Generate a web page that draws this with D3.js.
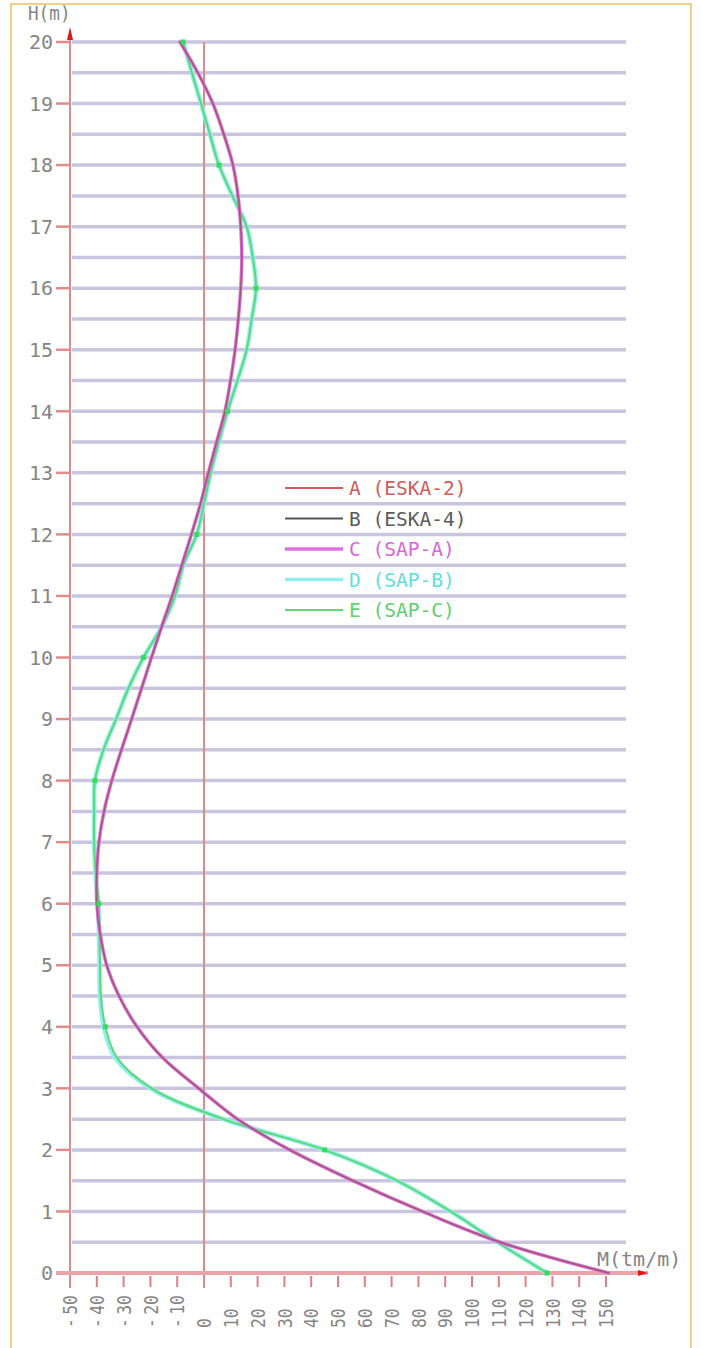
<!DOCTYPE html>
<html>
<head>
<meta charset="utf-8">
<script src="https://cdn.jsdelivr.net/npm/d3@7/dist/d3.min.js"></script>
<style>
  html, body { margin: 0; padding: 0; background: #ffffff; }
  svg { display: block; }
  text { font-family: "DejaVu Sans Mono", "Liberation Mono", monospace; }
</style>
</head>
<body>
<svg id="chart" width="702" height="1348"></svg>
<script>
// ---------------- DATA ----------------
const heights = [0,0.5,1,1.5,2,2.5,3,3.5,4,4.5,5,5.5,6,6.5,7,7.5,8,8.5,9,9.5,10,
                 10.5,11,11.5,12,12.5,13,13.5,14,14.5,15,15.5,16,16.5,17,17.5,18,18.5,19,19.5,20];
// ESKA results (A, B) and SAP-A (C): nearly identical
const seriesA = [151,110.5,81.5,55.5,32,12.5,-2,-15.5,-25,-31.7,-36.3,-38.7,-40,-40,-39.2,-37.3,-34.4,-30.8,-27,-23.3,-19.6,
                 -15.8,-11.9,-8.3,-4.7,-1.3,1.6,4.7,7.8,9.9,11.6,12.8,13.7,14.1,13.7,12.7,10.8,7.4,3.3,-2.3,-9];
const seriesB = [151,110.5,81.5,55.5,32,12.5,-2,-15.5,-25,-31.7,-36.3,-38.7,-40,-40,-39.2,-37.3,-34.4,-30.8,-27,-23.3,-19.6,
                 -15.8,-11.9,-8.3,-4.7,-1.3,1.6,4.7,7.8,9.9,11.6,12.8,13.7,14.1,13.7,12.7,10.8,7.4,3.3,-2.3,-9];
const seriesC = [151,110.5,81.5,55.5,32,12.5,-2,-15.5,-25,-31.7,-36.3,-38.7,-40,-40,-39.2,-37.3,-34.4,-30.8,-27,-23.3,-19.6,
                 -15.8,-11.9,-8.3,-4.7,-1.3,1.6,4.7,7.8,9.9,11.6,12.8,13.7,14.1,13.7,12.7,10.8,7.4,3.3,-2.3,-9];
// SAP-B (D) and SAP-C (E)
const seriesD = [128,109.5,92,72,45,7.2,-20,-33.2,-37.4,-38.8,-39,-39.2,-39.5,-40.5,-41,-41,-40.7,-37.5,-32.8,-28.2,-22.6,
                 -15.8,-10.8,-7.7,-2.7,0,2.5,5.5,8.8,12.5,15.9,17.8,19.4,18.2,15.9,10.6,5.6,2.2,-1.1,-4.5,-7.8];
const seriesE = [128,109.5,92,72,45,7.2,-19.5,-32.5,-36.8,-38.5,-38.8,-39,-39.2,-40.4,-41,-41,-40.7,-37.5,-32.8,-28.2,-22.6,
                 -15.8,-10.8,-7.7,-2.7,0,2.5,5.5,8.8,12.5,15.9,17.8,19.4,18.2,15.9,10.6,5.6,2.2,-1.1,-4.5,-7.8];
const markerHeights = [0,2,4,6,8,10,12,14,16,18,20];

const legendNames = ["A (ESKA-2)", "B (ESKA-4)", "C (SAP-A)", "D (SAP-B)", "E (SAP-C)"];
const xTicks = [-50,-40,-30,-20,-10,0,10,20,30,40,50,60,70,80,90,100,110,120,130,140,150];
const yTicks = [0,1,2,3,4,5,6,7,8,9,10,11,12,13,14,15,16,17,18,19,20];
const gridLevels = d3.range(0.5, 20.01, 0.5);
const yTitle = "H(m)";
const xTitle = "M(tm/m)";

// ---------------- STYLES ----------------
const colA = "#d45a5a", colB = "#555555", colC = "#e070e0", colD = "#8ff0ee", colE = "#5fd87a";
const textGray = "#858585";

// ---------------- SCALES ----------------
const x = d3.scaleLinear().domain([-50, 150]).range([70, 606]);
const y = d3.scaleLinear().domain([0, 20]).range([1273, 42]);

const svg = d3.select("#chart");

// frame
svg.append("rect").attr("x", 11).attr("y", 4).attr("width", 680).attr("height", 1380)
  .attr("fill", "none").attr("stroke", "#e7c25c").attr("stroke-width", 1.5);

// grid lines
svg.append("g").selectAll("line").data(gridLevels).join("line")
  .attr("x1", x.range()[0] + 2).attr("x2", x.range()[1] + 20)
  .attr("y1", d => y(d)).attr("y2", d => y(d))
  .attr("stroke", "#c9c5de").attr("stroke-width", 3.5);

// y axis line + arrow
svg.append("line").attr("x1", x(-50)).attr("x2", x(-50)).attr("y1", 30).attr("y2", 1288)
  .attr("stroke", "#d98c8c").attr("stroke-width", 2);
svg.append("path").attr("d", `M${x(-50)-3},40 L${x(-50)},27 L${x(-50)+3},40 Z`).attr("fill", "#e01818");

// zero line
svg.append("line").attr("x1", x(0)).attr("x2", x(0)).attr("y1", y(20)).attr("y2", 1288)
  .attr("stroke", "#d98c8c").attr("stroke-width", 2);

// x axis line + arrow
svg.append("line").attr("x1", 56).attr("x2", 648).attr("y1", y(0)).attr("y2", y(0))
  .attr("stroke", "#e9a4aa").attr("stroke-width", 4);
svg.append("path").attr("d", `M638,${y(0)-3} L648,${y(0)} L638,${y(0)+3} Z`).attr("fill", "#e01818");

// y ticks
svg.append("g").selectAll("line").data(yTicks.filter(d => d > 0)).join("line")
  .attr("x1", 56).attr("x2", x(-50)).attr("y1", d => y(d)).attr("y2", d => y(d))
  .attr("stroke", "#e08a8a").attr("stroke-width", 2.5);

// y tick labels
svg.append("g").selectAll("text").data(yTicks).join("text")
  .attr("x", 53).attr("y", d => y(d)).attr("dy", "0.36em")
  .attr("text-anchor", "end").attr("font-size", 20).attr("fill", textGray)
  .text(d => d);

// x ticks
svg.append("g").selectAll("line").data(xTicks.filter(d => d !== -50 && d !== 0)).join("line")
  .attr("x1", d => x(d)).attr("x2", d => x(d)).attr("y1", y(0) + 3).attr("y2", 1287)
  .attr("stroke", "#de7f88").attr("stroke-width", 2);

// x tick labels (rotated)
const xl = svg.append("g").selectAll("text").data(xTicks).join("text")
  .attr("transform", d => `translate(${x(d)},1328) rotate(-90) scale(0.82,1)`)
  .attr("dy", "0.36em").attr("text-anchor", "start")
  .attr("font-size", 20).attr("fill", textGray);
xl.each(function(d) {
  const t = d3.select(this);
  if (d < 0) {
    t.append("tspan").text("-");
    t.append("tspan").attr("dx", 4).text(String(Math.abs(d)));
  } else {
    t.text(String(d));
  }
});

// axis titles
svg.append("text").attr("x", 28).attr("y", 20).attr("font-size", 19).attr("fill", textGray)
  .attr("transform", "translate(28,0) scale(0.93,1) translate(-28,0)").text(yTitle);
svg.append("text").attr("x", 597).attr("y", 1266).attr("font-size", 20).attr("fill", textGray).text(xTitle);

// ---------------- CURVES ----------------
const mk = arr => heights.map((h, i) => ({h: h, v: arr[i]}));
const line = d3.line().x(d => x(d.v)).y(d => y(d.h)).curve(d3.curveCatmullRom.alpha(0.5));

const g = svg.append("g").attr("fill", "none").attr("stroke-linejoin", "round").attr("stroke-linecap", "round");
g.append("path").attr("d", line(mk(seriesD))).attr("stroke", colD).attr("stroke-width", 4.5);
g.append("path").attr("d", line(mk(seriesE))).attr("stroke", colE).attr("stroke-width", 2);
g.append("path").attr("d", line(mk(seriesC))).attr("stroke", colC).attr("stroke-width", 3.5);
g.append("path").attr("d", line(mk(seriesA))).attr("stroke", colA).attr("stroke-width", 1.6).attr("stroke-opacity", 0.55);
g.append("path").attr("d", line(mk(seriesB))).attr("stroke", colB).attr("stroke-width", 1.4).attr("stroke-opacity", 0.5);

// markers on E
const markers = mk(seriesE).filter(d => markerHeights.includes(d.h));
svg.append("g").selectAll("rect").data(markers).join("rect")
  .attr("x", d => x(d.v) - 2.5).attr("y", d => y(d.h) - 2.5)
  .attr("width", 5).attr("height", 5).attr("fill", "#2ee05a");

// ---------------- LEGEND ----------------
const legColors = [colA, colB, colC, colD, colE];
const legWidths = [1.8, 2.2, 3.5, 3.5, 2];
const legText = ["#d05a5a", "#5a5a5a", "#d866d8", "#5ee0e0", "#5ed070"];
const leg = svg.append("g");
legendNames.forEach((name, i) => {
  const ly = 488 + i * 30.5;
  leg.append("line").attr("x1", 285).attr("x2", 343).attr("y1", ly).attr("y2", ly)
    .attr("stroke", legColors[i]).attr("stroke-width", legWidths[i]);
  leg.append("text").attr("x", 349).attr("y", ly).attr("dy", "0.36em")
    .attr("font-size", 19.5).attr("fill", legText[i]).text(name);
});
</script>
</body>
</html>
